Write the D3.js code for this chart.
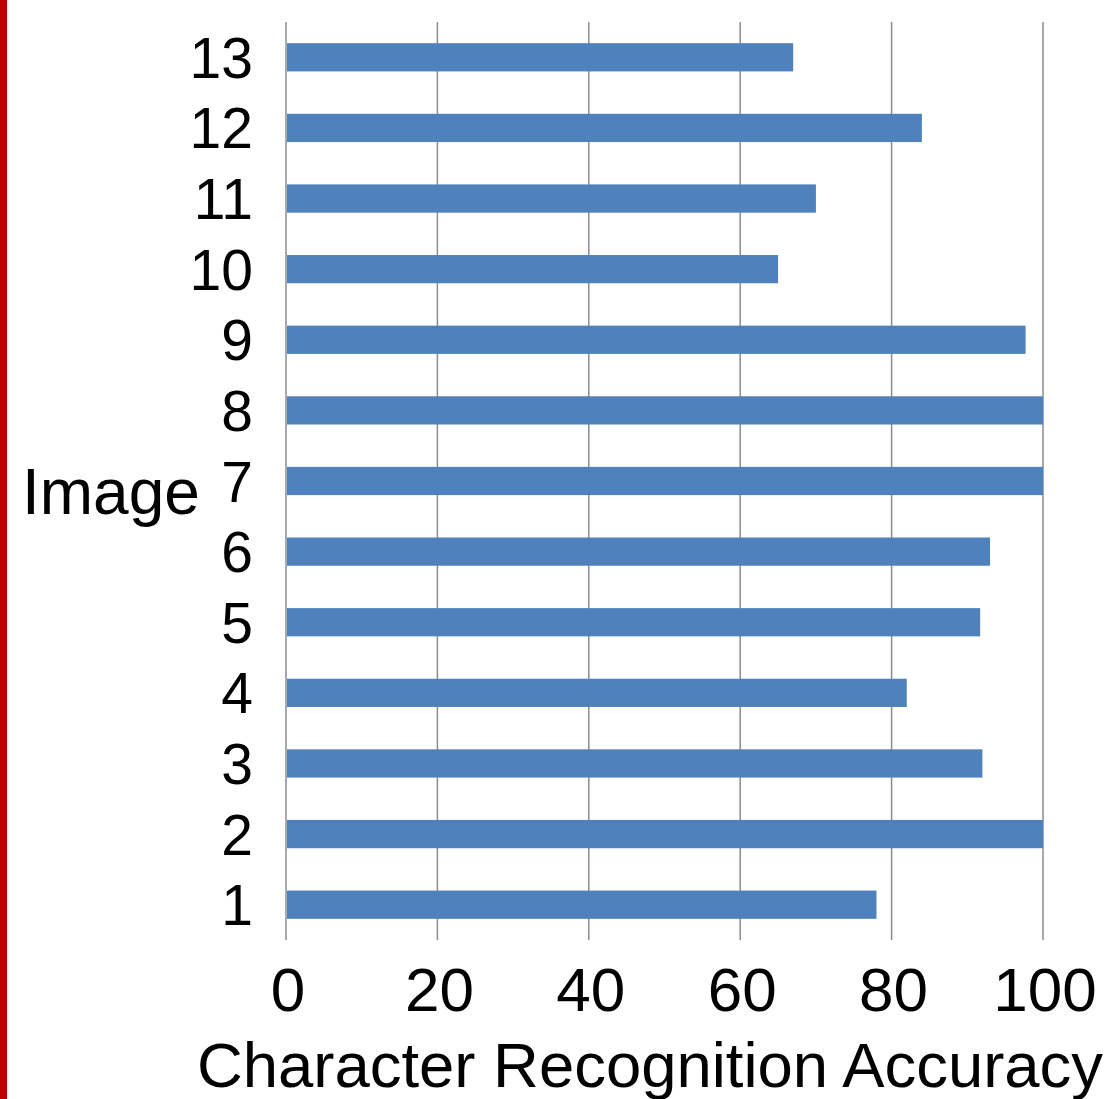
<!DOCTYPE html>
<html>
<head>
<meta charset="utf-8">
<script src="https://cdn.jsdelivr.net/npm/d3@7"></script>
<style>
  body { margin: 0; background: #fff; }
  text { font-family: "Liberation Sans", Arial, sans-serif; fill: #000; }
</style>
</head>
<body>
<div id="chart"></div>
<script>
// data
const images = ["1", "2", "3", "4", "5", "6", "7", "8", "9", "10", "11", "12", "13"];
const accuracy = [78, 100, 92, 82, 91.7, 93, 100, 100, 97.7, 65, 70, 84, 67];
const xTicks = [0, 20, 40, 60, 80, 100];

const W = 1108, H = 1099;
const margin = { top: 22, right: 65, bottom: 159, left: 286 };
const width = W - margin.left - margin.right;
const height = H - margin.top - margin.bottom;

const svg = d3.select("#chart").append("svg")
    .attr("width", W)
    .attr("height", H);

// red edge on the left
svg.append("rect")
    .attr("x", 0).attr("y", 0)
    .attr("width", 7).attr("height", H)
    .attr("fill", "#c00000");

const g = svg.append("g")
    .attr("transform", `translate(${margin.left},${margin.top})`);

const x = d3.scaleLinear().domain([0, 100]).range([0, width]);
const y = d3.scaleBand()
    .domain(images.slice().reverse())
    .range([0, height])
    .paddingInner(0.6)
    .paddingOuter(0.3);

// gridlines
g.selectAll(".grid")
    .data(xTicks)
    .join("line")
    .attr("x1", d => x(d)).attr("x2", d => x(d))
    .attr("y1", 0).attr("y2", height)
    .attr("stroke", "#8c8c8c")
    .attr("stroke-width", 1.5);

// bars
g.selectAll(".bar")
    .data(images.map((d, i) => ({ img: d, val: accuracy[i] })))
    .join("rect")
    .attr("x", x(0) + 1)
    .attr("y", d => y(d.img))
    .attr("width", d => x(d.val) - x(0) - 1)
    .attr("height", y.bandwidth())
    .attr("fill", "#4f81bd");

// y tick labels
g.selectAll(".ylab")
    .data(images)
    .join("text")
    .attr("x", -33)
    .attr("y", d => y(d) + y.bandwidth() / 2)
    .attr("dy", "0.36em")
    .attr("text-anchor", "end")
    .style("font-size", "57px")
    .text(d => d);

// x tick labels
g.selectAll(".xlab")
    .data(xTicks)
    .join("text")
    .attr("x", d => x(d) + 2)
    .attr("y", height + 71)
    .attr("text-anchor", "middle")
    .style("font-size", "62px")
    .text(d => d);

// axis titles
svg.append("text")
    .attr("x", 22)
    .attr("y", 514)
    .style("font-size", "64px")
    .text("Image");

svg.append("text")
    .attr("x", 197)
    .attr("y", 1087)
    .style("font-size", "63px")
    .attr("textLength", 906)
    .attr("lengthAdjust", "spacingAndGlyphs")
    .text("Character Recognition Accuracy");
</script>
</body>
</html>
